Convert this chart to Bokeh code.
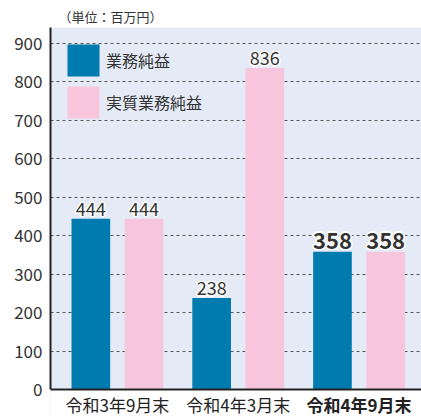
from bokeh.plotting import figure
from bokeh.models import (Range1d, FixedTicker, Legend, LegendItem, ColumnDataSource,
                          BoxAnnotation, Span, Title)
from bokeh.core.properties import value
from bokeh.embed import file_html
from bokeh.resources import INLINE

categories = ["令和3年9月末", "令和4年3月末", "令和4年9月末"]
series_names = ["業務純益", "実質業務純益"]
gyomu = [444, 238, 358]
jisshitsu = [444, 836, 358]
y_ticks = [0, 100, 200, 300, 400, 500, 600, 700, 800, 900]
unit_text = "（単位：百万円）"

FONT = "Noto Sans CJK JP"
BLUE = "#007bb0"
PINK = "#f7c6dd"
TXT = "#333333"
Y_TOP = 941.6
Y_BOTTOM = -70.2

p = figure(width=421, height=416, output_backend="svg", toolbar_location=None,
           x_range=Range1d(-0.554, 2.517), y_range=Range1d(Y_BOTTOM, Y_TOP),
           min_border_left=50, min_border_right=0, min_border_top=27, min_border_bottom=0)
p.background_fill_color = "#e5ebf6"
p.border_fill_color = "white"
p.outline_line_color = None

# white area under zero (category label band)
p.add_layout(BoxAnnotation(top=0, fill_color="white", fill_alpha=1.0, line_color=None, level="underlay"))

xs = list(range(len(categories)))
off = 0.22
w = 0.32
src1 = ColumnDataSource(dict(x=[x - off for x in xs], top=gyomu, lab=[str(v) for v in gyomu]))
src2 = ColumnDataSource(dict(x=[x + off for x in xs], top=jisshitsu, lab=[str(v) for v in jisshitsu]))
r1 = p.vbar(x="x", top="top", width=w, source=src1, fill_color=BLUE, line_color=None)
r2 = p.vbar(x="x", top="top", width=w, source=src2, fill_color=PINK, line_color=None)

# x axis line at zero
p.add_layout(Span(location=0, dimension="width", line_color="#222222", line_width=2))

# value labels with white halo
halo = [(-1.5, 0), (1.5, 0), (0, -1.5), (0, 1.5), (-1, -1), (1, 1), (-1, 1), (1, -1)]
LIFT = -3
for src in (src1, src2):
    n = len(src.data["x"])
    normal = ColumnDataSource(dict(x=src.data["x"][:n - 1], y=src.data["top"][:n - 1], t=src.data["lab"][:n - 1]))
    bold = ColumnDataSource(dict(x=src.data["x"][n - 1:], y=src.data["top"][n - 1:], t=src.data["lab"][n - 1:]))
    for s, size, style in ((normal, "18px", "normal"), (bold, "22px", "bold")):
        for dx, dy in halo:
            p.text(x="x", y="y", text="t", source=s, text_align="center", text_baseline="bottom",
                   x_offset=dx, y_offset=LIFT + dy, text_color="white",
                   text_font=value(FONT), text_font_size=size, text_font_style=style)
        p.text(x="x", y="y", text="t", source=s, text_align="center", text_baseline="bottom",
               x_offset=0, y_offset=LIFT, text_color=TXT,
               text_font=value(FONT), text_font_size=size, text_font_style=style)

# category labels (inside the extended frame, below zero)
CAT_Y = -38
cat_n = ColumnDataSource(dict(x=xs[:-1], y=[CAT_Y] * (len(xs) - 1), t=categories[:-1]))
cat_b = ColumnDataSource(dict(x=xs[-1:], y=[CAT_Y], t=categories[-1:]))
p.text(x="x", y="y", text="t", source=cat_n, text_align="center", text_baseline="middle",
       text_color="#222222", text_font=value(FONT), text_font_size="17px")
p.text(x="x", y="y", text="t", source=cat_b, text_align="center", text_baseline="middle",
       text_color="#222222", text_font=value(FONT), text_font_size="17px", text_font_style="bold")

# axes
p.xaxis.visible = False
p.yaxis.ticker = FixedTicker(ticks=y_ticks)
p.yaxis.bounds = (0, Y_TOP)
p.yaxis.major_label_text_font = FONT
p.yaxis.major_label_text_font_size = "17px"
p.yaxis.major_label_text_color = TXT
p.yaxis.axis_line_color = "#222222"
p.yaxis.axis_line_width = 2
p.yaxis.major_tick_line_color = None
p.yaxis.minor_tick_line_color = None
p.yaxis.major_label_standoff = 2

p.xgrid.grid_line_color = None
p.ygrid.ticker = FixedTicker(ticks=y_ticks[1:])
p.ygrid.grid_line_color = "#555555"
p.ygrid.grid_line_dash = "3 3"
p.ygrid.grid_line_width = 1

# unit label
p.add_layout(Title(text=unit_text, align="left", offset=8, standoff=4,
                   text_font=FONT, text_font_size="13px", text_font_style="normal",
                   text_color=TXT), "above")

legend = Legend(items=[LegendItem(label=series_names[0], renderers=[r1]),
                       LegendItem(label=series_names[1], renderers=[r2])],
                location="top_left", margin=13, padding=8, spacing=2,
                glyph_width=40, glyph_height=40, label_standoff=3,
                label_text_font=FONT, label_text_font_size="16px", label_text_color=TXT,
                background_fill_alpha=0, border_line_color=None)
p.add_layout(legend)

open("out.html", "w").write(file_html(p, INLINE))
